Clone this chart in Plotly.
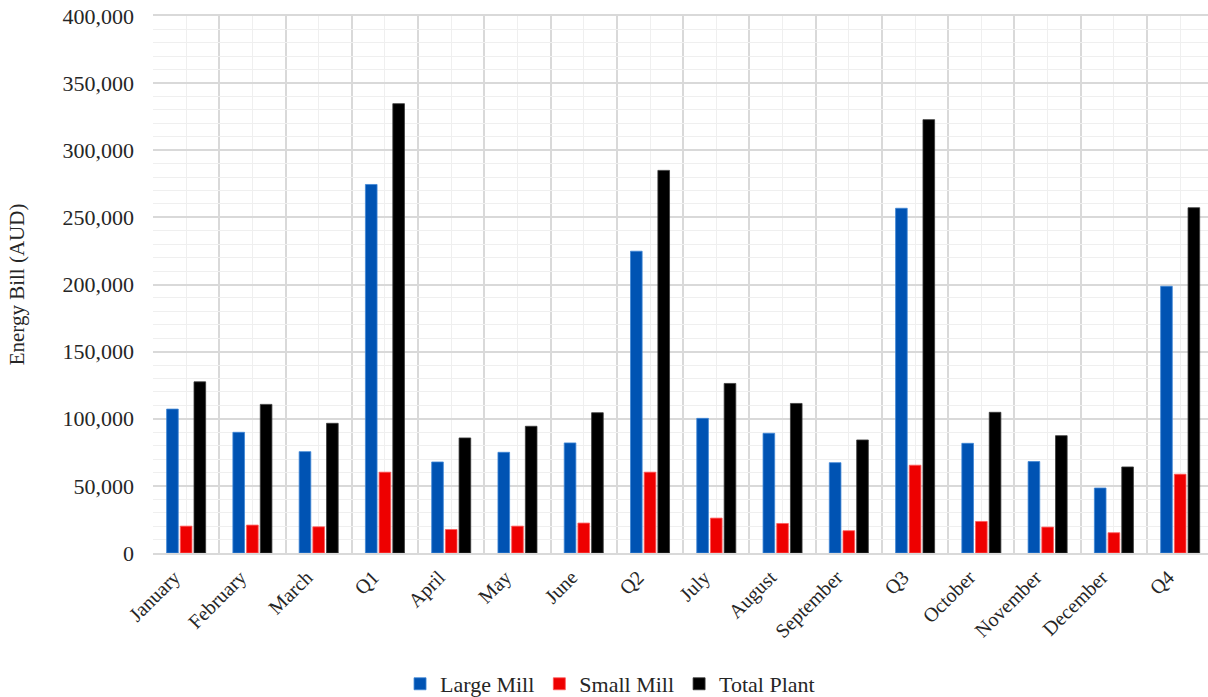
import plotly.graph_objects as go

categories = ["January", "February", "March", "Q1", "April", "May", "June", "Q2",
              "July", "August", "September", "Q3", "October", "November", "December", "Q4"]
large_mill = [107200, 89900, 75500, 274500, 67800, 75000, 82000, 224800,
              100300, 89200, 67300, 256800, 81700, 68100, 48400, 198700]
small_mill = [20000, 20800, 19500, 60200, 17500, 20000, 22300, 60200,
              26000, 22000, 16600, 65400, 23500, 19300, 15100, 58700]
total_plant = [127500, 110700, 96600, 334700, 85700, 94400, 104500, 285000,
               126300, 111400, 84200, 322800, 104800, 87400, 64100, 257200]
y_ticks = [0, 50000, 100000, 150000, 200000, 250000, 300000, 350000, 400000]

x_pos = list(range(len(categories)))
boundaries = [i - 0.5 for i in range(len(categories) + 1)]

FONT = "Liberation Serif, Times New Roman, serif"
TXT = "#262626"

fig = go.Figure()
fig.add_trace(go.Bar(name="Large Mill", x=x_pos, y=large_mill,
                     marker=dict(color="#0053B3", line=dict(color="#3F86D6", width=0.8))))
fig.add_trace(go.Bar(name="Small Mill", x=x_pos, y=small_mill,
                     marker=dict(color="#EE0000", line=dict(color="#FF5A5A", width=0.8))))
fig.add_trace(go.Bar(name="Total Plant", x=x_pos, y=total_plant,
                     marker=dict(color="#000000", line=dict(color="#3A3A3A", width=0.8))))

fig.update_layout(
    width=1208, height=697,
    margin=dict(l=153, r=0, t=16, b=144, autoexpand=False),
    paper_bgcolor="white", plot_bgcolor="white",
    font=dict(family=FONT, size=20, color=TXT),
    barmode="group", bargap=0.38, bargroupgap=0.15,
    showlegend=True,
    legend=dict(orientation="h", xref="container", yref="container",
                x=0.505, xanchor="center", y=0.0187, yanchor="middle",
                font=dict(family=FONT, size=22, color=TXT),
                itemwidth=30, traceorder="normal"),
)
fig.update_xaxes(
    range=[-0.5, 15.42],
    tickmode="array", tickvals=x_pos, ticktext=categories, tickangle=-45,
    tickfont=dict(family=FONT, size=20, color=TXT),
    ticks="", ticklabelstandoff=3, ticklabelshift=-12,
    showgrid=True, gridcolor="#EFEFEF", gridwidth=1,
    minor=dict(tickmode="array", tickvals=boundaries, showgrid=True,
               gridcolor="#D9D9D9", gridwidth=1.5, ticks=""),
    showline=True, mirror=True, linecolor="#D9D9D9", linewidth=1.5,
    zeroline=False, automargin=False,
)
fig.update_yaxes(
    range=[0, 400000],
    tickmode="array", tickvals=y_ticks, tickformat=",d",
    tickfont=dict(family=FONT, size=22, color=TXT),
    ticks="", ticklabelstandoff=18, ticklabeloverflow="allow",
    showgrid=True, gridcolor="#D9D9D9", gridwidth=1.5,
    minor=dict(dtick=10000, showgrid=True, gridcolor="#EFEFEF", gridwidth=1, ticks=""),
    zeroline=False, showline=False,
    title=dict(text="Energy Bill (AUD)", font=dict(family=FONT, size=21, color=TXT), standoff=32),
    automargin=False,
)

fig.write_html("out.html", config={"displayModeBar": False},
               post_script="document.body.style.margin='0';")
